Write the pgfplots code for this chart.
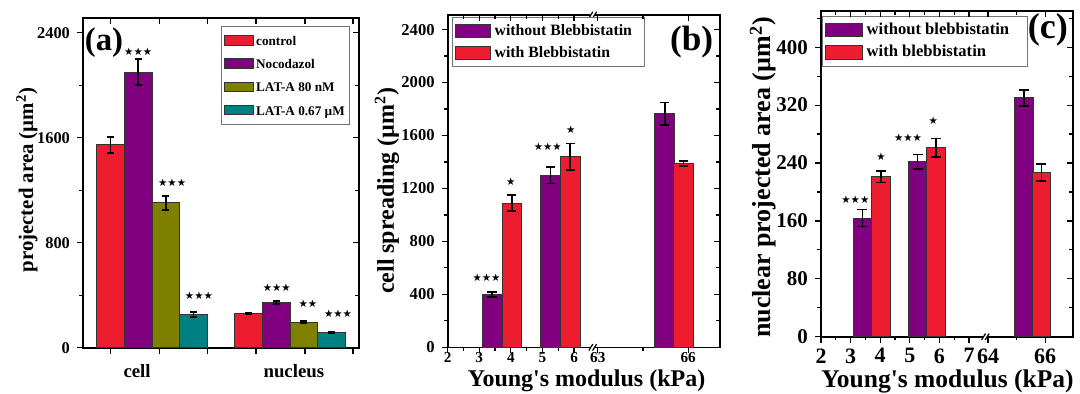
\documentclass[border=0pt]{standalone}
\usepackage{fontspec}
\setmainfont{Liberation Serif}
\newfontfamily\starfont{DejaVu Sans}
\usepackage{pgfplots}
\pgfplotsset{compat=1.18}
\definecolor{cred}{HTML}{ED1C2E}
\definecolor{cpur}{HTML}{800080}
\definecolor{colv}{HTML}{808000}
\definecolor{cteal}{HTML}{008080}
\newcommand{\fs}[1]{\fontsize{#1}{#1}\selectfont\bfseries}
\pgfplotsset{
  panel/.style={scale only axis, anchor=south west, clip=false,
    axis line style={black, line width=0.8pt},
    tick style={black, line width=0.6pt},
    tick align=outside, xtick pos=left, ytick pos=left,
    major tick length=3pt, minor tick length=1.8pt,
    /pgf/number format/assume math mode=true,
    /pgf/number format/1000 sep={},
    legend cell align=left,
    every axis y label/.style={rotate=90, anchor=center},
    every axis x label/.style={anchor=center, inner sep=0pt},
  },
  mirror/.style={scale only axis, anchor=south west, axis line style={draw=none},
    tick style={black, line width=0.6pt}, tick align=inside, xtick pos=right, ytick pos=right,
    major tick length=3pt, minor tick length=1.8pt, xticklabels={}, yticklabels={}},
  bars/.style={ybar, bar shift=0pt, draw=black!80, line width=0.5pt,
    error bars/y dir=both, error bars/y explicit,
    error bars/error bar style={black, line width=0.8pt},
    error bars/error mark options={black, rotate=90, mark size=#1, line width=0.8pt}},
  limg/.style 2 args={legend image code/.code={\draw[##1] (0pt,-#2) rectangle (#1,#2);}},
  stars/.style={only marks, mark=text, text mark={\starfont\fontsize{5.2}{5.2}\selectfont #1}, color=black, forget plot},
}
\begin{document}
\begin{tikzpicture}
\path[use as bounding box] (0,0) rectangle (540pt,196.5pt);

% ---------------- (a)
\begin{axis}[panel, at={(41.5pt,22.65pt)}, width=138pt, height=164.85pt,
  xmin=0, xmax=10, ymin=0, ymax=2512,
  xtick={1,2.76,4.51,6.27,8.04,9.78}, xticklabels={},
  extra x ticks={1.96,7.64}, extra x tick labels={cell,nucleus},
  extra x tick style={major tick length=0pt, tick label style={font=\fs{9.4}, yshift=-5pt}},
  ytick={0,800,1600,2400}, minor ytick={400,1200,2000},
  yticklabel style={font=\fs{8.2}},
  ylabel={projected area (µm\textsuperscript{2})},
  ylabel style={at={(rel axis cs:-0.203,0.509)}, font=\fs{10.4}},
  legend style={at={(0.967,0.976)}, anchor=north east, font=\fs{6.6}, draw=black!55, line width=0.5pt, inner sep=1.2pt,
    nodes={inner sep=1.1pt, text height=0.72em, text depth=0.22em}},
]
\addplot[bars=1.75pt, fill=cred, bar width=1, limg={14.5pt}{2.35pt}] table[x=x,y=y,y error=e]{
x y e
1 1545 62
6 258 6
};
\addlegendentry{control}
\addplot[bars=1.75pt, fill=cpur, bar width=1, limg={14.5pt}{2.35pt}] table[x=x,y=y,y error=e]{
x y e
2 2100 100
7 344 10
};
\addlegendentry{Nocodazol}
\addplot[bars=1.75pt, fill=colv, bar width=1, limg={14.5pt}{2.35pt}] table[x=x,y=y,y error=e]{
x y e
3 1104 53
8 195 8
};
\addlegendentry{LAT-A 80 nM}
\addplot[bars=1.75pt, fill=cteal, bar width=1, limg={14.5pt}{2.35pt}] table[x=x,y=y,y error=e]{
x y e
4 253 17
9 119 5
};
\addlegendentry{LAT-A 0.67 µM}
\addplot[stars={★★★}] coordinates {(2.00,2255) (3.23,1260) (4.20,394) (7.02,460) (9.24,262)};
\addplot[stars={★★}] coordinates {(8.15,333)};
\node[font=\fs{16.4}] at (rel axis cs:0.076,0.924) {(a)};
\end{axis}
\begin{axis}[mirror, at={(41.5pt,22.65pt)}, width=138pt, height=164.85pt,
  xmin=0, xmax=10, ymin=0, ymax=2512,
  xtick={1,2.76,4.51,6.27,8.04,9.78}, ytick={0,800,1600,2400}, minor ytick={400,1200,2000}]
\end{axis}

% ---------------- (b)
\begin{axis}[panel, at={(223.85pt,22.85pt)}, width=136.15pt, height=166.15pt,
  xmin=2, xmax=10.62, ymin=0, ymax=2510,
  xtick={2,3,4,5,6,6.75,9.61}, xticklabels={2,3,4,5,6,63,66}, minor xtick={2.5,3.5,4.5,5.5,8.18},
  ytick={0,400,...,2400}, minor ytick={200,600,...,2200},
  xticklabel style={font=\fs{7.6}, inner sep=1pt, yshift=1.8pt}, yticklabel style={font=\fs{8.3}},
  xlabel={Young\textquotesingle s modulus (kPa)}, xlabel style={at={(rel axis cs:0.51,0)}, yshift=-16.9pt, font=\fs{12}},
  ylabel={cell spreading (µm\textsuperscript{2})}, ylabel style={at={(rel axis cs:-0.223,0.471)}, font=\fs{12}},
  legend style={at={(0.0147,0.993)}, anchor=north west, font=\fs{7.9}, draw=black!55, line width=0.5pt, inner sep=1.2pt},
]
\addplot[bars=2.3pt, fill=cpur, bar width=0.62, limg={17.5pt}{3.15pt}] table[x=x,y=y,y error=e]{
x y e
3.40 400 20
5.26 1300 63
8.87 1765 85
};
\addlegendentry{without Blebbistatin\hspace*{3pt}}
\addplot[bars=2.3pt, fill=cred, bar width=0.62, limg={17.5pt}{3.15pt}] table[x=x,y=y,y error=e]{
x y e
4.03 1090 62
5.88 1440 100
9.47 1390 19
};
\addlegendentry{with Blebbistatin}
\addplot[stars={★★★}] coordinates {(3.23,523) (5.17,1515)};
\addplot[stars={★}] coordinates {(4.00,1250) (5.90,1646)};
\draw[white, line width=2.5pt] (axis cs:6.52,0) -- (axis cs:6.66,0);
\draw[line width=0.6pt] (axis cs:6.53,0) ++(-1pt,-1.6pt) -- ++(2pt,3.2pt);
\draw[line width=0.6pt] (axis cs:6.65,0) ++(-1pt,-1.6pt) -- ++(2pt,3.2pt);
\draw[white, line width=2.5pt] (axis cs:6.52,2510) -- (axis cs:6.66,2510);
\draw[line width=0.6pt] (axis cs:6.53,2510) ++(-1pt,-1.6pt) -- ++(2pt,3.2pt);
\draw[line width=0.6pt] (axis cs:6.65,2510) ++(-1pt,-1.6pt) -- ++(2pt,3.2pt);
\node[font=\fs{17.6}] at (rel axis cs:0.896,0.919) {(b)};
\end{axis}
\begin{axis}[mirror, at={(223.85pt,22.85pt)}, width=136.15pt, height=166.15pt,
  xmin=2, xmax=10.62, ymin=0, ymax=2510,
  xtick={2,3,4,5,6,6.75,9.61}, minor xtick={2.5,3.5,4.5,5.5,8.18},
  ytick={0,400,...,2400}, minor ytick={200,600,...,2200}]
\end{axis}

% ---------------- (c)
\begin{axis}[panel, at={(410.5pt,28.15pt)}, width=126pt, height=162.85pt,
  xmin=2, xmax=10.51, ymin=0, ymax=450,
  xtick={2,3,4,5,6,7,7.64,9.57}, xticklabels={2,3,4,5,6,7,64,66}, minor xtick={2.5,3.5,4.5,5.5,6.5,8.6},
  ytick={0,80,...,400}, minor ytick={40,120,...,440},
  xticklabel style={font=\fs{11}, inner sep=1pt, yshift=-1.7pt}, yticklabel style={font=\fs{10.5}},
  xlabel={Young\textquotesingle s modulus (kPa)}, xlabel style={at={(rel axis cs:0.502,0)}, yshift=-22.2pt, font=\fs{12.75}},
  ylabel={nuclear projected area (µm\textsuperscript{2})}, ylabel style={at={(rel axis cs:-0.23,0.489)}, font=\fs{13}},
  legend style={at={(0.003,0.985)}, anchor=north west, font=\fs{8.3}, draw=black!55, line width=0.5pt, inner sep=1.2pt},
]
\addplot[bars=2.5pt, fill=cpur, bar width=0.62, limg={18.5pt}{3.4pt}] table[x=x,y=y,y error=e]{
x y e
3.40 164 12
5.26 241.5 10
8.85 330 11
};
\addlegendentry{without blebbistatin\hspace*{6pt}}
\addplot[bars=2.5pt, fill=cred, bar width=0.62, limg={18.5pt}{3.4pt}] table[x=x,y=y,y error=e]{
x y e
4.02 221 8
5.88 261 13
9.44 227 12
};
\addlegendentry{with blebbistatin}
\addplot[stars={★★★}] coordinates {(3.16,188.6) (4.94,274.6)};
\addplot[stars={★}] coordinates {(4.03,249) (5.79,298)};
\draw[white, line width=2.5pt] (axis cs:7.48,0) -- (axis cs:7.62,0);
\draw[line width=0.6pt] (axis cs:7.49,0) ++(-1pt,-1.6pt) -- ++(2pt,3.2pt);
\draw[line width=0.6pt] (axis cs:7.61,0) ++(-1pt,-1.6pt) -- ++(2pt,3.2pt);
\node[font=\fs{18}] at (rel axis cs:0.90,0.942) {(c)};
\end{axis}
\begin{axis}[mirror, at={(410.5pt,28.15pt)}, width=126pt, height=162.85pt,
  xmin=2, xmax=10.51, ymin=0, ymax=450,
  xtick={2,3,4,5,6,7,7.64,9.57}, minor xtick={2.5,3.5,4.5,5.5,6.5,8.6},
  ytick={0,80,...,400}, minor ytick={40,120,...,440}]
\end{axis}
\end{tikzpicture}
\end{document}
